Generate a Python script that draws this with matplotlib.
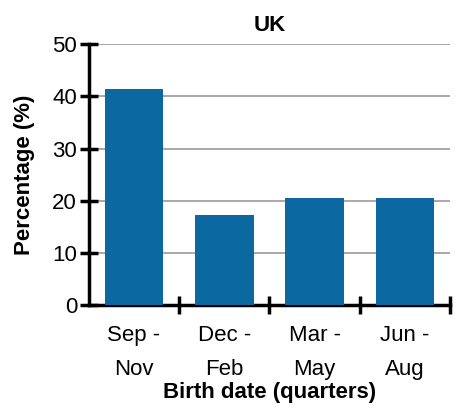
import matplotlib
matplotlib.use("Agg")
import matplotlib.pyplot as plt
import numpy as np

quarters = ["Sep -\nNov", "Dec -\nFeb", "Mar -\nMay", "Jun -\nAug"]
percent = [41.3, 17.3, 20.5, 20.5]
yticks = [0, 10, 20, 30, 40, 50]

plt.rcParams["font.family"] = ["Liberation Sans", "DejaVu Sans"]

fig = plt.figure(figsize=(4.65, 4.19), dpi=100)
ax = fig.add_axes([0.191, 0.271, 0.777, 0.624])

x = np.arange(len(quarters))
ax.bar(x, percent, width=0.65, color="#0c68a0", zorder=3)

ax.set_xlim(-0.5, len(quarters) - 0.5)
ax.set_ylim(0, 50)
ax.set_yticks(yticks)
ax.grid(axis="y", color="#9a9a9a", linewidth=1.2, zorder=0)

ax.set_xticks(x)
ax.set_xticklabels(quarters, fontsize=16, linespacing=1.8)
ax.set_xticks(np.append(x[1:] - 0.5, len(quarters) - 0.5), minor=True)
ax.tick_params(axis="x", which="major", length=0, pad=14)
ax.tick_params(axis="x", which="minor", direction="inout", length=13, width=2.5)
ax.tick_params(axis="y", direction="inout", length=13, width=2.5, labelsize=16, pad=2)

for side in ["top", "right"]:
    ax.spines[side].set_visible(False)
for side in ["left", "bottom"]:
    ax.spines[side].set_linewidth(2.5)

ax.set_title("UK", fontsize=16, fontweight="bold", pad=9)
ax.set_ylabel("Percentage (%)", fontsize=16, fontweight="bold", labelpad=12)
ax.set_xlabel("Birth date (quarters)", fontsize=16, fontweight="bold", labelpad=2)

fig.savefig("out.png", dpi=100)
